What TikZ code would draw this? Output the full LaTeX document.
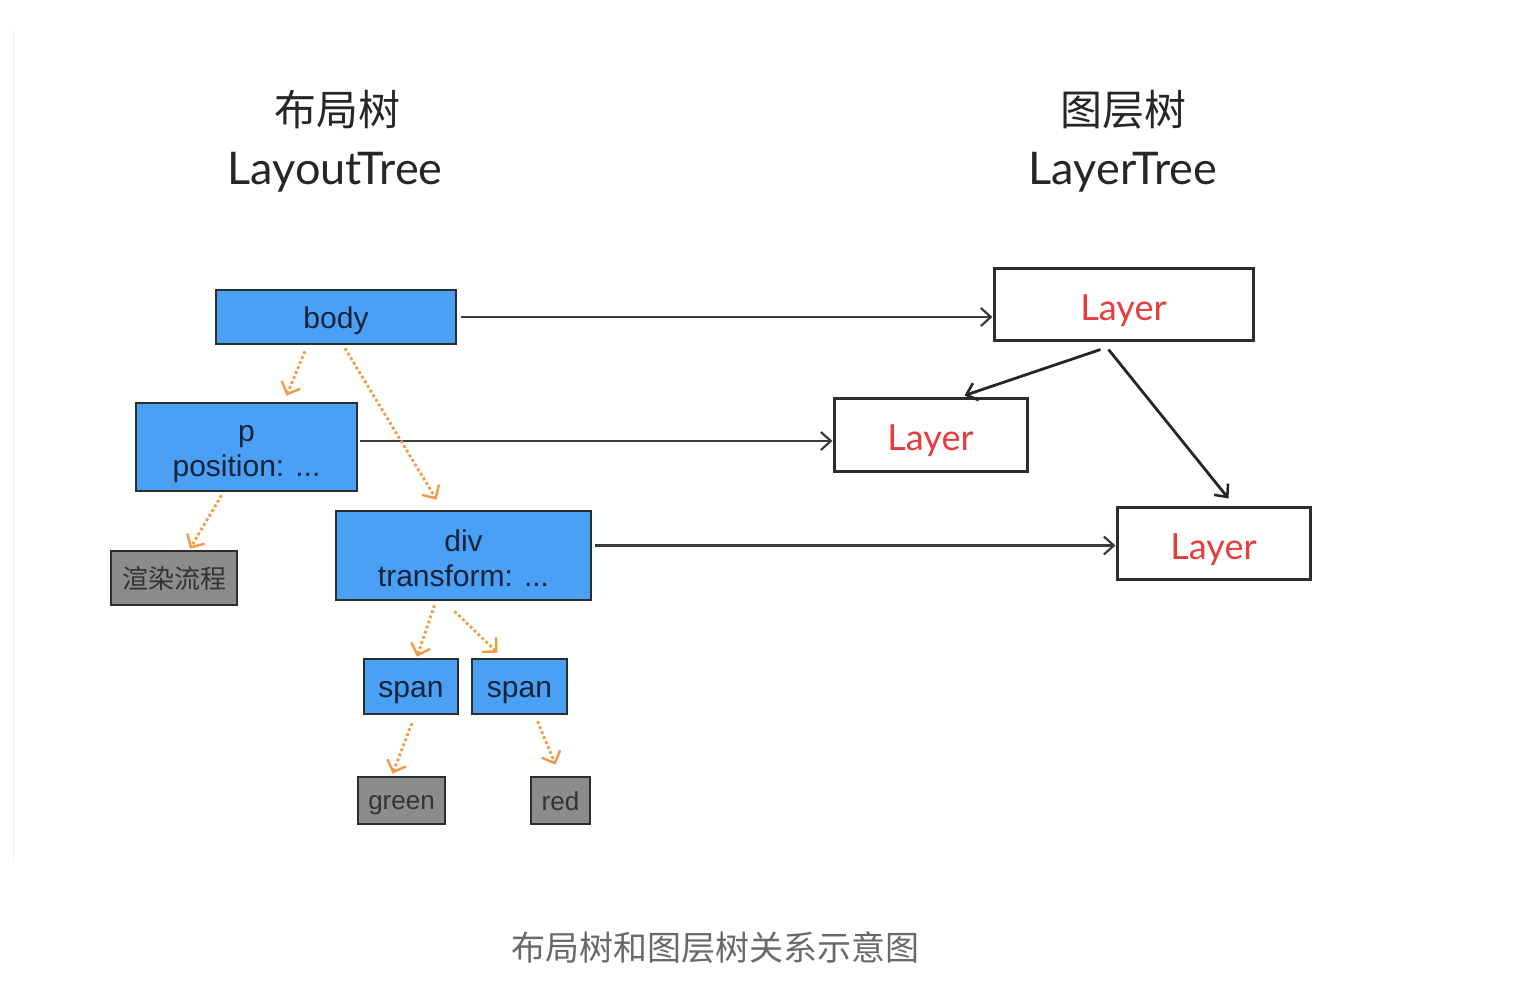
\documentclass[tikz,border=0pt]{standalone}
\usepackage{fontspec}
\setmainfont{Liberation Sans}
\newfontfamily\cjk{Noto Sans CJK SC}
\newfontfamily\hand{Lato}
\usetikzlibrary{arrows.meta}
\newcommand\dropby[2]{\raisebox{-#1}[\height][\depth]{#2}}
\definecolor{boxblue}{RGB}{74,160,245}
\definecolor{boxgray}{RGB}{140,140,140}
\definecolor{edgedark}{RGB}{45,45,45}
\definecolor{linkgray}{RGB}{60,60,60}
\definecolor{navy}{RGB}{20,35,55}
\definecolor{orangeln}{RGB}{243,154,68}
\definecolor{layerred}{RGB}{232,60,62}
\definecolor{captiongray}{RGB}{105,105,105}
\tikzset{
  bluebox/.style={draw=edgedark,line width=2.6pt,fill=boxblue,inner sep=0pt,align=center,text=navy,
    font=\fontsize{30}{35}\selectfont},
  graybox/.style={draw=edgedark,line width=2.6pt,fill=boxgray,inner sep=0pt,align=center,text=black!80,
    font=\fontsize{26}{30}\selectfont},
  layerbox/.style={draw=edgedark,line width=3pt,fill=white,inner sep=0pt,text=layerred,
    font=\hand\fontsize{36}{40}\selectfont},
  link/.style={draw=linkgray,line width=2.2pt,-{Straight Barb[length=10pt,width=18pt,line width=2.2pt]}},
  treelink/.style={draw=black!85,line width=2.8pt,-{Straight Barb[length=10pt,width=18pt,line width=2.6pt]}},
  domlink/.style={draw=orangeln,line width=2.8pt,dash pattern=on 2.8pt off 2.6pt,
    -{Straight Barb[length=10pt,width=20pt,line width=2.4pt,sep=0pt]}},
  title/.style={inner sep=0pt,text=black!85},
}
\begin{document}
\begin{tikzpicture}[x=1pt,y=-1pt]
\useasboundingbox (0,0) rectangle (1538,1006);
\draw[black!6,line width=1pt] (13,30) -- (13,860);

% titles
\node[title,font=\cjk\fontsize{42}{46}\selectfont] (t1) at (337,110) {布局树};
\node[title,font=\hand\fontsize{45}{48}\selectfont] (t2) at (335,172) {LayoutTree};
\node[title,font=\cjk\fontsize{42}{46}\selectfont] (t3) at (1123,110) {图层树};
\node[title,font=\hand\fontsize{45}{48}\selectfont] (t4) at (1123,172) {LayerTree};

% layout tree
\node[bluebox,minimum width=240pt,minimum height=54pt] (body) at (336,317) {\dropby{4pt}{body}};
\node[bluebox,minimum width=221pt,minimum height=88pt] (p) at (246.5,447) {\dropby{7pt}{p}\\\dropby{7pt}{position: ...}};
\node[graybox,minimum width=126pt,minimum height=54pt,font=\cjk\fontsize{26}{30}\selectfont] (render) at (174,578) {\dropby{1pt}{渲染流程}};
\node[bluebox,minimum width=255pt,minimum height=89pt] (div) at (463.5,555.5) {\dropby{3pt}{div}\\\dropby{3pt}{transform: ...}};
\node[bluebox,minimum width=94pt,minimum height=55pt] (span1) at (411,686.5) {\dropby{6pt}{span}};
\node[bluebox,minimum width=95pt,minimum height=55pt] (span2) at (519.5,686.5) {\dropby{6pt}{span}};
\node[graybox,minimum width=87pt,minimum height=47pt] (green) at (401.5,800.5) {\dropby{5pt}{green}};
\node[graybox,minimum width=59pt,minimum height=47pt] (red) at (560.5,800.5) {\dropby{1pt}{red}};

% layer tree
\node[layerbox,minimum width=259pt,minimum height=72pt] (L1) at (1123.5,304) {\dropby{7pt}{Layer}};
\node[layerbox,minimum width=193pt,minimum height=73pt] (L2) at (930.5,434.5) {\dropby{6pt}{Layer}};
\node[layerbox,minimum width=193pt,minimum height=72pt] (L3) at (1213.5,543) {\dropby{7pt}{Layer}};

% horizontal links
\draw[link] ([xshift=4pt]body.east) -- (body.east -| L1.west);
\draw[link] ([xshift=2pt,yshift=6pt]p.east) -- ([yshift=6pt]p.east -| L2.west);
\draw[link] ([xshift=3pt,yshift=10pt]div.east) -- ([yshift=10pt]div.east -| L3.west);

% layer tree links
\draw[treelink] ([xshift=-23pt,yshift=-8pt]L1.south) -- ([xshift=34pt,yshift=1pt]L2.north);
\draw[treelink] ([xshift=-15pt,yshift=-8pt]L1.south) -- ([xshift=15pt,yshift=7pt]L3.north);

% layout tree links
\draw[domlink] ([xshift=-31pt,yshift=-6pt]body.south) -- ([xshift=40pt,yshift=6pt]p.north);
\draw[domlink] ([xshift=9pt,yshift=-3pt]body.south) -- ([xshift=-27pt,yshift=10pt]div.north);
\draw[domlink] ([xshift=-25pt,yshift=-3pt]p.south) -- ([xshift=16pt,yshift=1pt]render.north);
\draw[domlink] ([xshift=-29pt,yshift=-4pt]div.south) -- ([xshift=6pt,yshift=1pt]span1.north);
\draw[domlink] ([xshift=-9pt,yshift=-10pt]div.south) -- ([xshift=-22pt,yshift=5pt]span2.north);
\draw[domlink] ([xshift=1pt,yshift=-8pt]span1.south) -- ([xshift=-9pt,yshift=2pt]green.north);
\draw[domlink] ([xshift=18pt,yshift=-6pt]span2.south) -- ([xshift=-5pt,yshift=11pt]red.north);

% caption
\node[inner sep=0pt,text=captiongray,font=\cjk\fontsize{34}{38}\selectfont] (cap) at (715,948) {布局树和图层树关系示意图};
\end{tikzpicture}
\end{document}
